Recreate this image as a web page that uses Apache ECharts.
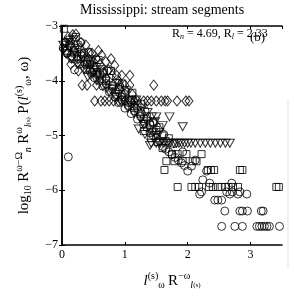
<!DOCTYPE html>
<html>
<head>
<meta charset="utf-8">
<script src="https://cdn.jsdelivr.net/npm/echarts@6/dist/echarts.min.js"></script>
<style>
  html, body { margin: 0; padding: 0; background: #fff; }
  #chart { width: 294px; height: 297px; }
</style>
</head>
<body>
<div id="chart"></div>
<script>
// tick values
var xTicks = [0, 1, 2, 3];
var yTicks = [-7, -6, -5, -4, -3];

// diamonds
var diamonds = [
  [0.02, -3.42], [0.05, -3.3], [0.08, -3.5], [0.1, -3.2], [0.12, -3.35], [0.15, -3.55], [0.17, -3.16],
  [0.2, -3.45], [0.22, -3.15], [0.25, -3.6], [0.28, -3.4], [0.3, -3.3], [0.33, -3.55], [0.36, -3.7],
  [0.44, -3.49], [0.42, -3.6], [0.45, -3.8], [0.48, -3.5], [0.5, -3.65], [0.53, -3.75], [0.56, -3.9],
  [0.6, -3.7], [0.63, -3.53], [0.66, -3.85], [0.7, -3.95], [0.74, -3.8], [0.78, -3.6], [0.8, -3.9],
  [0.87, -3.9], [0.95, -3.9], [1.08, -3.9], [0.9, -4.0], [1.02, -4.2], [1.12, -4.25],
  [0.38, -3.35], [0.58, -3.45], [0.7, -3.65], [0.84, -3.72], [0.26, -3.82], [0.14, -3.7],
  [0.32, -4.08], [0.4, -4.08], [0.55, -4.08], [0.92, -4.08], [1.0, -4.08], [1.08, -4.08], [1.46, -4.08],
  [0.52, -4.37], [0.62, -4.37], [0.68, -4.37], [0.75, -4.37], [0.82, -4.37], [0.9, -4.37], [1.0, -4.37],
  [1.08, -4.37], [1.15, -4.37], [1.2, -4.37], [1.3, -4.37], [1.36, -4.37], [1.42, -4.37], [1.5, -4.37],
  [1.58, -4.37], [1.64, -4.37], [1.68, -4.37], [1.83, -4.37], [1.97, -4.37], [2.02, -4.37]
];

// down triangles
var triangles = [
  [0.02, -3.35], [0.06, -3.5], [0.1, -3.3], [0.15, -3.6], [0.2, -3.45], [0.25, -3.7], [0.3, -3.55],
  [0.35, -3.8], [0.41, -3.93], [0.4, -3.7], [0.45, -3.9], [0.5, -3.85], [0.55, -4.0], [0.6, -3.95],
  [0.65, -4.1], [0.71, -4.13], [0.75, -4.2], [0.8, -4.15], [0.85, -4.3], [0.9, -4.25], [0.95, -4.4],
  [1.0, -4.35], [1.05, -4.5], [1.1, -4.45], [1.15, -4.6], [1.2, -4.55], [1.25, -4.7], [1.3, -4.8],
  [1.35, -4.75], [1.4, -4.9], [1.45, -4.95], [1.5, -5.0], [1.55, -4.95],
  [0.18, -3.25], [0.48, -3.62], [0.62, -3.8], [0.88, -4.05], [1.02, -4.18], [1.18, -4.35],
  [1.28, -4.5], [1.36, -4.58], [1.22, -4.88], [1.32, -4.98], [1.6, -4.82], [1.48, -4.75],
  [1.43, -4.66], [1.5, -4.66], [1.71, -4.66], [1.92, -4.84], [1.4, -5.18],
  [1.42, -5.14], [1.5, -5.14], [1.56, -5.14], [1.62, -5.14], [1.68, -5.14], [1.72, -5.14],
  [1.78, -5.14], [1.82, -5.14], [1.86, -5.14], [1.9, -5.14], [1.95, -5.14], [2.0, -5.14],
  [2.05, -5.14], [2.12, -5.14], [2.2, -5.14], [2.28, -5.14], [2.36, -5.14], [2.44, -5.14],
  [2.52, -5.14], [2.6, -5.14], [2.67, -5.14]
];

// squares
var squares = [
  [0.03, -3.05], [0.05, -3.3], [0.08, -3.45], [0.12, -3.25], [0.15, -3.4], [0.2, -3.5], [0.25, -3.35],
  [0.3, -3.6], [0.35, -3.5], [0.4, -3.7], [0.45, -3.65], [0.5, -3.8], [0.55, -3.75], [0.6, -3.9],
  [0.65, -3.85], [0.7, -4.0], [0.75, -3.95], [0.8, -4.1], [0.85, -4.2], [0.9, -4.15], [0.95, -4.3],
  [1.0, -4.25], [1.05, -4.4], [1.1, -4.35], [1.15, -4.5], [1.2, -4.45], [1.25, -4.6], [1.3, -4.7],
  [1.35, -4.65], [1.4, -4.8], [1.45, -4.75], [1.5, -4.9], [1.55, -4.85], [1.6, -5.0], [1.65, -5.1],
  [0.22, -3.2], [0.42, -3.48], [0.58, -3.62], [0.78, -3.82], [0.96, -4.05], [1.12, -4.22],
  [1.3, -4.92], [1.42, -5.05], [1.52, -5.12], [1.26, -4.42],
  [1.7, -5.05], [1.6, -5.23], [1.75, -5.34], [1.84, -5.34], [1.98, -5.34], [2.22, -5.34],
  [1.66, -5.47], [1.79, -5.47], [1.92, -5.47], [2.08, -5.47], [2.14, -5.47],
  [1.63, -5.63], [2.32, -5.63], [2.37, -5.63], [2.42, -5.63], [2.83, -5.63], [2.87, -5.63],
  [1.84, -5.94], [2.06, -5.94], [2.12, -5.94], [2.18, -5.94], [2.34, -5.94], [2.4, -5.94],
  [2.48, -5.94], [2.54, -5.94], [2.6, -5.94], [2.65, -5.94], [2.72, -5.94], [2.8, -5.94],
  [3.41, -5.94], [3.45, -5.94]
];

// circles
var circles = [
  [0.02, -3.4], [0.05, -3.3], [0.08, -3.5], [0.12, -3.35], [0.16, -3.6], [0.2, -3.8], [0.2, -3.4],
  [0.24, -3.55], [0.28, -3.7], [0.32, -3.5], [0.36, -3.65], [0.4, -3.8], [0.44, -3.7], [0.48, -3.85],
  [0.52, -3.95], [0.56, -3.85], [0.6, -4.0], [0.65, -4.1], [0.7, -4.05], [0.75, -4.2], [0.8, -4.15],
  [0.85, -4.3], [0.9, -4.4], [0.95, -4.35], [1.0, -4.5], [1.05, -4.45], [1.1, -4.6], [1.15, -4.55],
  [1.2, -4.7], [1.25, -4.65], [1.3, -4.8], [1.35, -4.85], [1.4, -4.95], [1.45, -5.0], [1.5, -5.05],
  [1.55, -5.1], [1.6, -5.2], [1.65, -5.25], [1.7, -5.3], [1.75, -5.35], [1.8, -5.4], [1.85, -5.45],
  [1.9, -5.5], [1.95, -5.55], [2.0, -5.65], [2.06, -5.56], [2.24, -5.81], [2.35, -5.87], [2.22, -6.03],
  [0.3, -3.3], [0.54, -3.6], [0.72, -3.82], [0.92, -4.12], [1.12, -4.35], [1.32, -4.55],
  [1.46, -4.78], [1.62, -4.98], [1.78, -5.15], [1.92, -5.3], [2.12, -5.45], [2.3, -5.65],
  [0.1, -5.39],
  [2.7, -5.87], [2.62, -6.03], [2.71, -6.03], [2.83, -6.03],
  [2.19, -6.07], [2.67, -6.07], [2.8, -6.07], [2.94, -6.07],
  [2.43, -6.18], [2.48, -6.18], [2.54, -6.18],
  [2.59, -6.38], [2.83, -6.38], [2.87, -6.38], [2.95, -6.38], [3.17, -6.38], [3.2, -6.38],
  [2.54, -6.66], [2.75, -6.66], [2.87, -6.66], [3.1, -6.66], [3.14, -6.66], [3.18, -6.66],
  [3.22, -6.66], [3.26, -6.66], [3.3, -6.66], [3.46, -6.66]
];

var serif = 'Liberation Serif';
var chart = echarts.init(document.getElementById('chart'));

function hollow(name, symbol, size, data, rotate) {
  return {
    name: name,
    type: 'scatter',
    symbol: symbol,
    symbolSize: size,
    symbolRotate: rotate || 0,
    data: data,
    itemStyle: { color: 'transparent', borderColor: '#000', borderWidth: 1 },
    silent: true
  };
}

function minus(v) {
  return String(v).replace('-', '\u2212');
}

var rich = {
  b: { fontFamily: serif, fontSize: 15, color: '#000' },
  i: { fontFamily: serif, fontSize: 15, fontStyle: 'italic', color: '#000' },
  sup: { fontFamily: serif, fontSize: 10, color: '#000', padding: [0, 0, 10, 0] },
  sub: { fontFamily: serif, fontSize: 10, color: '#000', padding: [8, 0, 0, 0] },
  subi: { fontFamily: serif, fontSize: 10, fontStyle: 'italic', color: '#000', padding: [8, 0, 0, 0] },
  sm: { fontFamily: serif, fontSize: 7, color: '#000', padding: [8, 0, 0, 0] }
};

var option = {
  animation: false,
  grid: { left: 62, right: 12, top: 26, bottom: 52 },
  xAxis: [{
    type: 'value', min: 0, max: 3.5, interval: 1,
    axisLine: { lineStyle: { color: '#000', width: 1.5 } },
    axisTick: { inside: true, length: 3, lineStyle: { color: '#000' } },
    axisLabel: {
      fontFamily: serif, fontSize: 12, color: '#000', margin: 4, showMaxLabel: false,
      formatter: function (v) { return xTicks.indexOf(v) >= 0 ? String(v) : ''; }
    },
    splitLine: { show: false },
    name: '{i|l}{sup|(s)}{sub|ω} {b|R}{sup|−ω}{subi|l}{sm|(s)}',
    nameLocation: 'middle', nameGap: 26,
    nameTextStyle: { rich: rich }
  }, {
    type: 'value', min: 0, max: 3.5, interval: 1, position: 'top',
    axisLine: { lineStyle: { color: '#000', width: 1.5 } },
    axisTick: { inside: true, length: 3, lineStyle: { color: '#000' } },
    axisLabel: { show: false }, splitLine: { show: false }
  }],
  yAxis: [{
    type: 'value', min: -7, max: -3, interval: 1,
    axisLine: { lineStyle: { color: '#000', width: 1.5 } },
    axisTick: { inside: true, length: 3, lineStyle: { color: '#000' } },
    axisLabel: {
      fontFamily: serif, fontSize: 12, color: '#000', margin: 4,
      formatter: function (v) { return yTicks.indexOf(v) >= 0 ? minus(v) : ''; }
    },
    splitLine: { show: false },
    name: '{b|log}{sub|10} {b|R}{sup|ω−Ω}{subi|n} {b|R}{sup|ω}{subi|l}{sm|(s)} {b|P(}{i|l}{sup|(s)}{sub|ω}{b|, ω)}',
    nameLocation: 'middle', nameGap: 28, nameRotate: 90,
    nameTextStyle: { rich: rich }
  }, {
    type: 'value', min: -7, max: -3, interval: 1, position: 'right',
    axisLine: { lineStyle: { color: '#000', width: 1.5 } },
    axisTick: { inside: true, length: 3, lineStyle: { color: '#000' } },
    axisLabel: { show: false }, splitLine: { show: false }
  }],
  graphic: [{
    type: 'text', left: 80, top: 3,
    style: { text: 'Mississippi: stream segments', fontFamily: serif, fontSize: 14, fill: '#000' }
  }, {
    type: 'text', left: 172, top: 28,
    style: {
      text: '{b|R}{subi|n}{b| = 4.69, R}{subi|l}{b| = 2.33}',
      rich: {
        b: { fontFamily: serif, fontSize: 12, fill: '#000' },
        subi: { fontFamily: serif, fontSize: 8, fontStyle: 'italic', fill: '#000', padding: [6, 0, 0, 0] }
      }
    }
  }, {
    type: 'text', left: 250, top: 31,
    style: { text: '(b)', fontFamily: serif, fontSize: 13, fill: '#000' }
  }, {
    type: 'line', silent: true,
    shape: { x1: 288, y1: 100, x2: 288, y2: 268 },
    style: { stroke: '#e2e2e2', lineWidth: 1 }
  }],
  series: [
    hollow('diamond', 'diamond', [8, 10], diamonds),
    hollow('triangle', 'triangle', [9, 8], triangles, 180),
    hollow('square', 'rect', 7, squares),
    hollow('circle', 'circle', 8, circles)
  ]
};

chart.setOption(option);

window.onresize = function () {
  chart.resize();
};
</script>
</body>
</html>
